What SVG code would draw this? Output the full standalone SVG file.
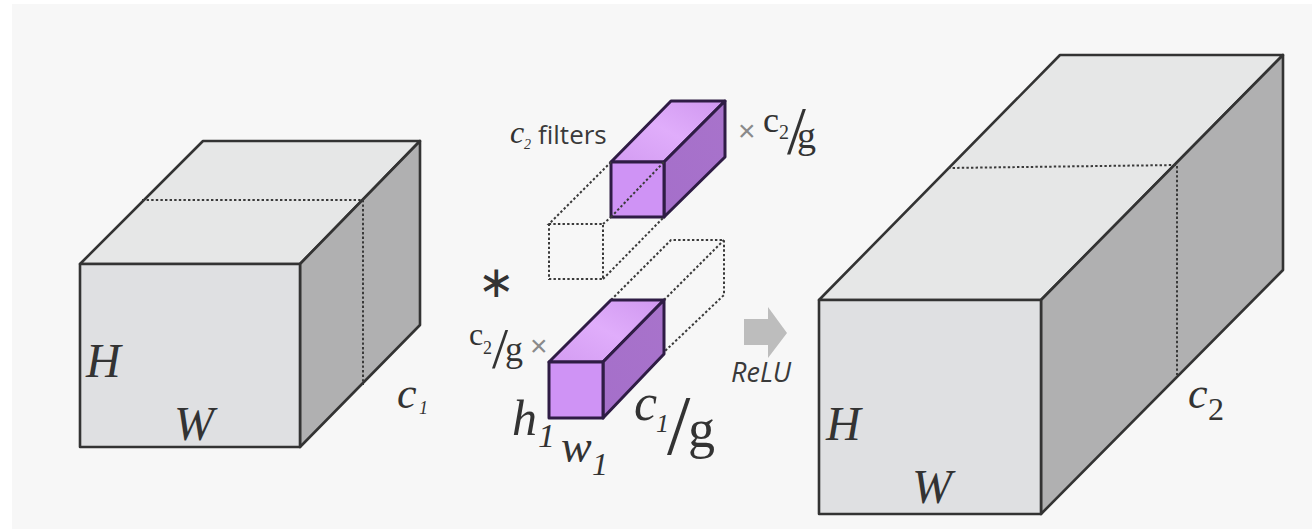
<svg xmlns="http://www.w3.org/2000/svg" width="1312" height="529" viewBox="0 0 1312 529">
<defs>
<linearGradient id="pt" x1="0" y1="1" x2="1" y2="0"><stop offset="0" stop-color="#d39cf2"/><stop offset=".5" stop-color="#e0adfb"/><stop offset="1" stop-color="#cf97ef"/></linearGradient>
<linearGradient id="ps" x1="0" y1="1" x2="1" y2="0"><stop offset="0" stop-color="#a56fca"/><stop offset="1" stop-color="#a873cb"/></linearGradient>
</defs>
<style>
.e{stroke:#333;stroke-width:2.6;stroke-linejoin:round}
.p{stroke:#2f1c45;stroke-width:3;stroke-linejoin:round}
.d{fill:none;stroke:#3a3a3a;stroke-width:2;stroke-dasharray:2.4 2.2}
.top{fill:#e6e7e7}.front{fill:#dfe0e2}.side{fill:#b0b0b1}
.t{font-family:"Liberation Serif",serif;font-style:italic;fill:#333}
.n{font-style:normal}
.s{font-family:"Open Sans",sans-serif;fill:#3a3a3a}
.x{font-family:"Liberation Sans",sans-serif;fill:#8a8a8a}
</style>
<rect width="1312" height="529" fill="#fff"/>
<rect x="12" y="4" width="1300" height="525" fill="#f7f7f7"/>
<g id="input-cube">
<polygon class="e top" points="80,264 203,141 420,141 300,264"/>
<polygon class="e side" points="300,264 420,141 420,325 300,447"/>
<rect class="e front" x="80" y="264" width="220" height="183"/>
<path class="d" d="M142,200H363V385"/>
<text class="t" x="86" y="377" font-size="48">H</text>
<text class="t" x="174" y="440" font-size="48">W</text>
<text class="t" x="397" y="408" font-size="44">c<tspan font-size="18" x="419" y="414">1</tspan></text>
</g>
<g id="filter-top">
<polygon class="p" points="611,162 671,101 725,101 664,162" fill="url(#pt)"/>
<polygon class="p" points="664,162 725,101 725,157 664,217" fill="url(#ps)"/>
<rect class="p" x="611" y="162" width="53" height="55" fill="#cf93f5"/>
<path class="d" d="M611,217L664,162"/>
<text class="t" x="510" y="143" font-size="32">c<tspan font-size="14" x="524" y="149">2</tspan></text>
<text class="s" x="538" y="144" font-size="26" font-weight="500">filters</text>
<text class="x" x="738" y="141" font-size="30">×</text>
<text class="t n" x="763" y="132" font-size="36">c<tspan font-size="20" x="779" y="139">2</tspan><tspan font-size="68" x="787" y="153">/</tspan><tspan font-size="38" x="797" y="148">g</tspan></text>
</g>
<g id="filter-top-ghost">
<path class="d" d="M611,162L549,224H603V279H549V224M603,224L611,217M603,279L664,217"/>
</g>
<g id="star">
<text x="478" y="297" font-size="44" fill="#333" font-family="DejaVu Sans, sans-serif">∗</text>
</g>
<g id="filter-bottom-ghost">
<path class="d" d="M611,300L671,240H724V295L664,352M664,300L724,240"/>
</g>
<g id="filter-bottom">
<polygon class="p" points="549,362 611,300 664,300 603,362" fill="url(#pt)"/>
<polygon class="p" points="603,362 664,300 664,354 603,418" fill="url(#ps)"/>
<rect class="p" x="549" y="362" width="54" height="56" fill="#cf93f5"/>
<text class="t n" x="469" y="345" font-size="32">c<tspan font-size="18" x="483" y="354">2</tspan><tspan font-size="58" x="492" y="368">/</tspan><tspan font-size="36" x="505" y="361">g</tspan></text>
<text class="x" x="530" y="356" font-size="30">×</text>
<text class="t" x="512" y="435" font-size="50">h<tspan font-size="34" x="538" y="447">1</tspan></text>
<text class="t" x="561" y="462" font-size="46">w<tspan font-size="32" x="592" y="475">1</tspan></text>
<text class="t" x="634" y="420" font-size="52">c<tspan font-size="26" x="656" y="432">1</tspan><tspan class="n" font-size="84" x="667" y="454">/</tspan><tspan class="n" font-size="54" x="688" y="447">g</tspan></text>
</g>
<g id="relu">
<polygon points="744,319 768,319 768,307 787,333 768,358 768,345 744,345" fill="#bdbdbd"/>
<text class="s" x="731" y="382" font-size="27" font-style="italic">ReLU</text>
</g>
<g id="output-cube">
<polygon class="e top" points="819,300 1060,55 1283,55 1041,300"/>
<polygon class="e side" points="1041,300 1283,55 1283,270 1041,514"/>
<rect class="e front" x="819" y="300" width="222" height="214"/>
<path class="d" d="M948,168L1177,165V375"/>
<text class="t" x="826" y="440" font-size="48">H</text>
<text class="t" x="912" y="503" font-size="48">W</text>
<text class="t" x="1188" y="408" font-size="44">c<tspan class="n" font-size="32" x="1208" y="420">2</tspan></text>
</g>
<g id="connectors"></g>
</svg>
